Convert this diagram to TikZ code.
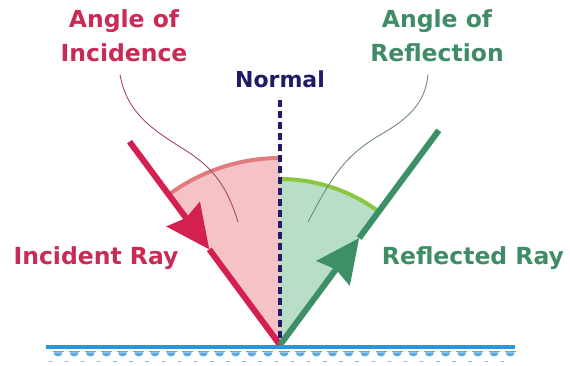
\documentclass[tikz,border=0pt]{standalone}
\usepackage{fontspec}
\newfontfamily\labelfont{DejaVu Sans}
\usetikzlibrary{arrows.meta,calc}

\definecolor{incRed}{HTML}{D42050}
\definecolor{incText}{HTML}{C92B54}
\definecolor{incFill}{HTML}{F5C3C6}
\definecolor{incArc}{HTML}{E07C7C}
\definecolor{incLine}{HTML}{A8485A}
\definecolor{refGreen}{HTML}{3D8F66}
\definecolor{refText}{HTML}{3F8C66}
\definecolor{refFill}{HTML}{B9DEC8}
\definecolor{refArc}{HTML}{8CC63F}
\definecolor{refLine}{HTML}{6F8A78}
\definecolor{normBlue}{HTML}{1F1B66}
\definecolor{waterBlue}{HTML}{2C95DA}
\definecolor{waterLight}{HTML}{5AAAE0}

\begin{document}
\begin{tikzpicture}[
  x=1pt, y=1pt,
  every node/.style={inner sep=0pt},
  tag/.style={font=\labelfont\bfseries\fontsize{23.5}{34}\selectfont, align=center, anchor=base},
  ray/.style={line width=6pt},
  raytip/.style={-{Stealth[length=44pt, width=42pt, inset=5pt, line width=0pt]}},
  sectorarc/.style={line width=4pt},
  pointer/.style={line width=0.9pt},
  normline/.style={normBlue, line width=3.5pt, dash pattern=on 7pt off 4pt}
]
  \useasboundingbox (0,0) rectangle (570,366);

  % hit point and rays
  \coordinate (hit) at (280,21);
  \coordinate (ntop) at (280,266);
  \coordinate (inS) at ($(hit)+(126.5:253)$);
  \coordinate (inT) at ($(hit)+(126.5:119)$);
  \coordinate (reE) at ($(hit)+(53.5:267)$);
  \coordinate (reT) at ($(hit)+(53.5:133)$);
  \coordinate (incSpot) at (238,144);
  \coordinate (refSpot) at (308,144);

  % angle sectors
  \fill[incFill] (hit) -- ++(90:187) arc[start angle=90, end angle=126.5, radius=187] -- cycle;
  \fill[refFill] (hit) -- ++(53.5:166) arc[start angle=53.5, end angle=90, radius=166] -- cycle;
  \draw[incArc, sectorarc] (hit) ++(90:187) arc[start angle=90, end angle=126.5, radius=187];
  \draw[refArc, sectorarc] (hit) ++(53.5:166) arc[start angle=53.5, end angle=90, radius=166];

  % labels
  \node[tag, text=incText] (angInc) at (124,304) {Angle of\\Incidence};
  \node[tag, text=refText] (angRef) at (437,304) {Angle of\\Reflection};
  \node[tag, text=normBlue, font=\labelfont\bfseries\fontsize{22}{26}\selectfont] (normal) at (280,278) {Normal};
  \node[tag, text=incText] (incRay) at (96,101) {Incident Ray};
  \node[tag, text=refText] (refRay) at (473,101) {Reflected Ray};

  % pointers
  \draw[incLine, pointer] ([xshift=-4pt, yshift=-12pt]angInc.south)
    to[out=-80, in=148] (185,216) to[out=-32, in=107] (incSpot);
  \draw[refLine, pointer] ([xshift=-9pt, yshift=-12pt]angRef.south)
    to[out=-95, in=30] (380,231) to[out=210, in=62] (refSpot);

  % normal
  \draw[normline] (ntop) -- (hit);

  % rays
  \draw[incRed, ray, raytip] (inS) -- (inT);
  \draw[incRed, ray] (inT) -- (hit);
  \draw[refGreen, ray, raytip] (hit) -- (reT);
  \draw[refGreen, ray] (reT) -- (reE);

  % mirror surface
  \draw[waterBlue, line width=4pt] (46,19) -- (515,19);
  \foreach \i in {0,...,28} {
    \pgfmathsetmacro\wx{58+16.15*\i}
    \draw[waterBlue!80, line width=1.5pt] (\wx-5.5,14.5) -- (\wx+5.5,14.5);
    \fill[waterLight] (\wx-4.5,13.5) arc[start angle=180, end angle=360, x radius=4.5, y radius=4] -- cycle;
    \fill[waterLight!80] (\wx-9.5,3.5) rectangle (\wx-6,5.2);
  }
\end{tikzpicture}
\end{document}
